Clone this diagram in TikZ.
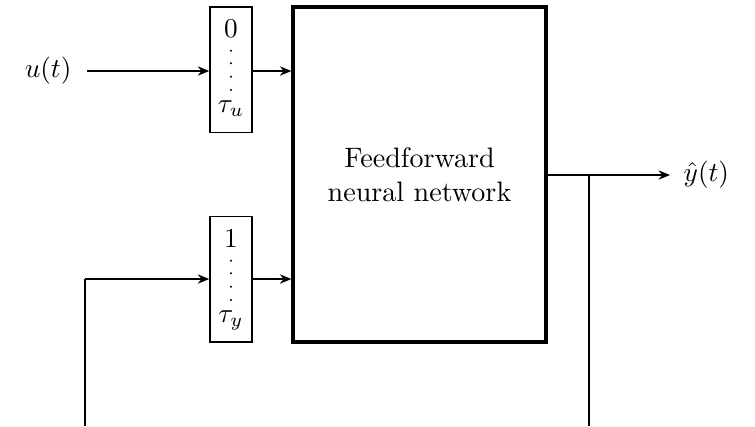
\documentclass[tikz,border=0pt]{standalone}
\usetikzlibrary{arrows.meta}
\begin{document}
\begin{tikzpicture}[x=0.3665pt, y=-0.3665pt,
  every node/.style={font=\fontsize{10.3}{12.4}\selectfont},
  conn/.style={line width=0.55pt, -{Stealth[length=4.2pt,width=3.4pt]}},
  wire/.style={line width=0.55pt},
  delaybox/.style={draw, line width=0.55pt, minimum width=15.4pt, minimum height=46pt, inner sep=0pt},
  nnbox/.style={draw, line width=1.2pt, minimum width=92.7pt, minimum height=122.8pt, align=center, inner sep=0pt},
  dotmark/.style={fill=black}]
\useasboundingbox (0,0) rectangle (755,426);
% nodes
\node[delaybox] (du) at (231,69.5) {};
\node[delaybox] (dy) at (231,279) {};
\node[nnbox] (nn) at (419.5,174.5) {Feedforward\\neural network};
\node[anchor=east, inner sep=0pt, inner xsep=5.5pt] (u) at (87,71) {$u(t)$};
\node[anchor=west, inner sep=0pt, inner xsep=4.8pt] (yhat) at (670,175) {$\hat{y}(t)$};
% delay box contents
\node[anchor=base, inner sep=0pt] (u0) at (231,37) {$0$};
\node[anchor=base, inner sep=0pt] (utau) at (231,112) {$\tau_u$};
\node[anchor=base, inner sep=0pt] (y1) at (231,247) {$1$};
\node[anchor=base, inner sep=0pt] (ytau) at (231,322) {$\tau_y$};
\foreach \yy in {50.7,63.3,76.7,90} {\fill[dotmark] (231,\yy) circle (0.42pt);}
\foreach \yy in {260.7,273.3,286.7,300} {\fill[dotmark] (231,\yy) circle (0.42pt);}
% coordinates
\coordinate (fbL) at (85,426);
\coordinate (fbLc) at (85,279);
\coordinate (split) at (589,175);
\coordinate (fbR) at (589,426);
% connectors
\draw[conn] (u.east) -- (u.east -| du.west);
\draw[conn] (u.east -| du.east) -- (u.east -| nn.west);
\draw[conn] (fbLc) -- (fbLc -| dy.west);
\draw[wire] (fbL) -- (fbLc);
\draw[conn] (fbLc -| dy.east) -- (fbLc -| nn.west);
\draw[conn] (split -| nn.east) -- (yhat.west);
\draw[wire] (split) -- (fbR);
\end{tikzpicture}
\end{document}
